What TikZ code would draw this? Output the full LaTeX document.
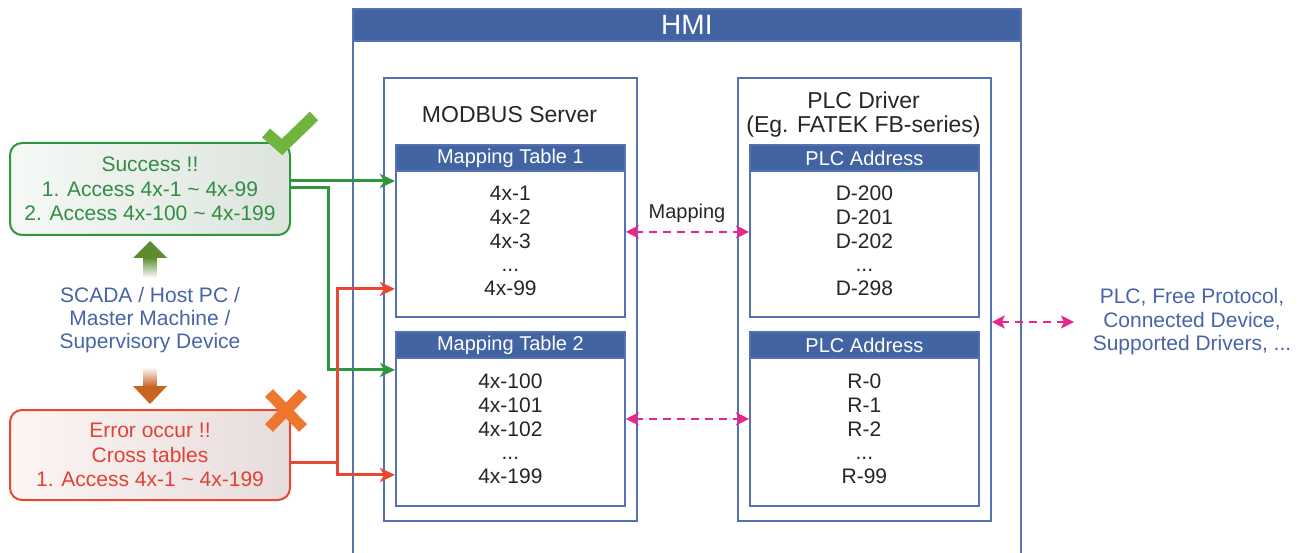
\documentclass[tikz,border=0pt]{standalone}
\usepackage{fontspec}
\setmainfont{Liberation Sans}
\usetikzlibrary{arrows.meta, positioning, calc}
\definecolor{hmiblue}{RGB}{66, 100, 163}
\definecolor{frameblue}{RGB}{84, 114, 178}
\definecolor{textblue}{RGB}{72, 100, 168}
\definecolor{entrygray}{RGB}{38, 38, 38}
\definecolor{okgreen}{RGB}{46, 150, 62}
\definecolor{oktext}{RGB}{50, 140, 68}
\definecolor{okfillL}{RGB}{246, 249, 246}
\definecolor{okfillR}{RGB}{220, 228, 220}
\definecolor{errred}{RGB}{232, 72, 50}
\definecolor{errtext}{RGB}{226, 66, 52}
\definecolor{errfillL}{RGB}{253, 245, 244}
\definecolor{errfillR}{RGB}{230, 220, 220}
\definecolor{mappink}{RGB}{230, 40, 140}
\definecolor{checkgreen}{RGB}{110, 180, 62}
\definecolor{crossorange}{RGB}{238, 118, 46}
\definecolor{upgreen}{RGB}{92, 140, 48}
\definecolor{downorange}{RGB}{198, 100, 32}

\tikzset{
  frame/.style={draw=frameblue, line width=1.8pt, inner sep=0pt, anchor=north west},
  tabhead/.style={frame, fill=hmiblue, text=white, minimum width=229pt, minimum height=26pt,
    font=\fontsize{20}{22}\selectfont},
  tabbody/.style={frame, fill=white, text=entrygray, align=center, minimum width=229pt,
    text depth=6pt, font=\fontsize{21}{23.75}\selectfont},
  msgbox/.style={rounded corners=12pt, line width=2pt, minimum width=280pt, align=center,
    font=\fontsize{21}{24.5}\selectfont},
  okline/.style={draw=okgreen, line width=3pt, -{Stealth[length=15pt, width=14pt, inset=4pt]}},
  errline/.style={draw=errred, line width=3pt, -{Stealth[length=15pt, width=14pt, inset=4pt]}},
  maparrow/.style={draw=mappink, line width=2.2pt, dash pattern=on 8pt off 6pt,
    {Stealth[length=13pt, width=13pt, inset=3pt]}-{Stealth[length=13pt, width=13pt, inset=3pt]}}
}

\begin{document}
\begin{tikzpicture}[x=1pt, y=-1pt]
  \useasboundingbox (0,0) rectangle (1311,553);
  \clip (0,0) rectangle (1311,553);

  % HMI frame
  \node[frame, minimum width=668pt, minimum height=575pt] (hmi) at (352,8) {};
  \node[frame, fill=hmiblue, text=white, minimum width=668pt, minimum height=32pt,
    font=\fontsize{28}{30}\selectfont] (hmihead) at (352,8) {HMI};

  \node[frame, minimum width=253pt, minimum height=443pt] (modbus) at (383,77) {};
  \node[text=entrygray, font=\fontsize{23}{24}\selectfont] (modbustitle) at (509.5,115) {MODBUS Server};

  \node[frame, minimum width=253pt, minimum height=443pt] (plcdrv) at (737,77) {};
  \node[text=entrygray, align=center, font=\fontsize{23}{24}\selectfont] (plctitle) at (863.5,115)
    {PLC Driver\\(Eg. FATEK FB-series)};

  % mapping tables
  \node[tabhead] (mt1head) at (395,144) {Mapping Table 1};
  \node[tabbody, minimum height=146pt] (mt1body) at (395,170) {4x-1\\4x-2\\4x-3\\...\\4x-99};
  \node[tabhead] (mt2head) at (395,331) {Mapping Table 2};
  \node[tabbody, minimum height=148pt] (mt2body) at (395,357) {4x-100\\4x-101\\4x-102\\...\\4x-199};

  \node[tabhead] (pa1head) at (749,144) {PLC Address};
  \node[tabbody, minimum height=146pt] (pa1body) at (749,170) {D-200\\D-201\\D-202\\...\\D-298};
  \node[tabhead] (pa2head) at (749,331) {PLC Address};
  \node[tabbody, minimum height=148pt] (pa2body) at (749,357) {R-0\\R-1\\R-2\\...\\R-99};

  \node[text=entrygray, font=\fontsize{20}{22}\selectfont] (maplabel) at (687,213) {Mapping};
  \draw[maparrow] ([yshift=12pt]mt1body.east) -- ([yshift=12pt]pa1body.west);
  \draw[maparrow] ([yshift=13pt]mt2body.east) -- ([yshift=13pt]pa2body.west);

  % other devices
  \node[text=textblue, align=center, font=\fontsize{21}{23.5}\selectfont] (devices) at (1192,322)
    {PLC, Free Protocol,\\Connected Device,\\Supported Drivers, ...};
  \coordinate (devin) at (1074,322);
  \draw[maparrow] (plcdrv.east |- devin) -- (devin);

  % master side
  \node[msgbox, draw=okgreen, left color=okfillL, right color=okfillR, text=oktext,
    minimum height=92pt] (okbox) at (150,189)
    {Success !!\\1. Access 4x-1 \textasciitilde{} 4x-99\\2. Access 4x-100 \textasciitilde{} 4x-199};
  \node[msgbox, draw=errred, left color=errfillL, right color=errfillR, text=errtext,
    minimum height=90pt] (errbox) at (150,455)
    {Error occur !!\\Cross tables\\1. Access 4x-1 \textasciitilde{} 4x-199};
  \node[text=textblue, align=center, font=\fontsize{21}{23}\selectfont] (scada) at (150,320)
    {SCADA / Host PC /\\Master Machine /\\Supervisory Device};

  \begin{scope}[shift={(okbox.south)}]
    \fill[upgreen] (0,5) -- (17,22) -- (-17,22) -- cycle;
    \shade[top color=upgreen, bottom color=white] (-6.5,21.5) rectangle (6.5,42);
  \end{scope}
  \begin{scope}[shift={(errbox.north)}]
    \fill[downorange] (0,-5) -- (17,-23) -- (-17,-23) -- cycle;
    \shade[top color=white, bottom color=downorange] (-6.5,-42) rectangle (6.5,-22.5);
  \end{scope}

  \begin{scope}[shift={(okbox.north east)}]
    \draw[checkgreen, line width=12pt] (-25,-9) -- (-9,5) -- (23,-26);
  \end{scope}
  \begin{scope}[shift={(errbox.north east)}]
    \draw[crossorange, line width=11pt] (-22,-16) -- (12,19);
    \draw[crossorange, line width=11pt] (12,-16) -- (-22,19);
  \end{scope}

  % access lines
  \coordinate (okbend) at (328,0);
  \coordinate (errbend) at (337,0);
  \draw[okline] ([yshift=8pt]okbox.east) -- ([yshift=8pt]okbox.east -| mt1body.west);
  \draw[okline] ([yshift=1pt]okbox.east) -- ([yshift=1pt]okbox.east -| okbend) |- ([yshift=62pt]mt2body.west);
  \draw[errline] ([yshift=-7pt]errbox.east) -- ([yshift=-7pt]errbox.east -| errbend) |- ([yshift=-45pt]mt1body.west);
  \draw[errline] ([yshift=-7pt]errbox.east -| errbend) |- ([yshift=-43pt]mt2body.west);
\end{tikzpicture}
\end{document}
